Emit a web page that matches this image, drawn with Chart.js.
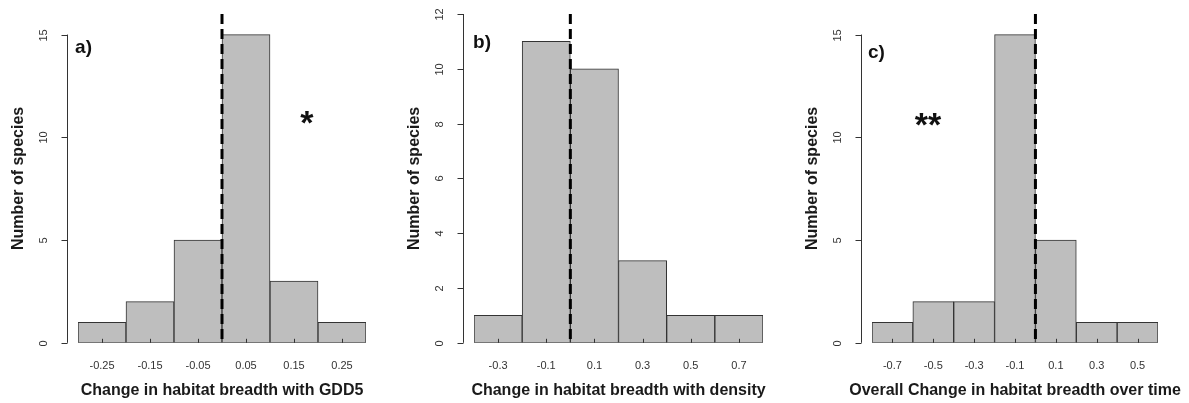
<!DOCTYPE html>
<html><head><meta charset="utf-8">
<script src="https://cdn.jsdelivr.net/npm/chart.js@4/dist/chart.umd.min.js"></script>
<style>
html,body{margin:0;padding:0;background:#fff;}
#wrap{position:relative;width:1189px;height:403px;overflow:hidden;background:#fff;}
canvas{position:absolute;top:0;}
</style></head><body>
<div id="wrap">
<canvas id="ca" width="396" height="403" style="left:0px"></canvas>
<canvas id="cb" width="397" height="403" style="left:395px"></canvas>
<canvas id="cc" width="397" height="403" style="left:792px"></canvas>
</div>
<script>
// ---- Data ----
const aCenters = [-0.25, -0.15, -0.05, 0.05, 0.15, 0.25];
const aCounts  = [1, 2, 5, 15, 3, 1];
const aTickLabels = ["-0.25", "-0.15", "-0.05", "0.05", "0.15", "0.25"];
const aYTicks = [0, 5, 10, 15];

const bCenters = [-0.3, -0.1, 0.1, 0.3, 0.5, 0.7];
const bCounts  = [1, 11, 10, 3, 1, 1];
const bTickLabels = ["-0.3", "-0.1", "0.1", "0.3", "0.5", "0.7"];
const bYTicks = [0, 2, 4, 6, 8, 10, 12];

const cCenters = [-0.7, -0.5, -0.3, -0.1, 0.1, 0.3, 0.5];
const cCounts  = [1, 2, 2, 15, 5, 1, 1];
const cTickLabels = ["-0.7", "-0.5", "-0.3", "-0.1", "0.1", "0.3", "0.5"];
const cYTicks = [0, 5, 10, 15];

const FAM = '"Liberation Sans", Arial, Helvetica, sans-serif';

const histDeco = {
  id: 'histDeco',
  afterDatasetsDraw(chart, args, opts) {
    const ctx = chart.ctx, xs = chart.scales.x, ys = chart.scales.y, ca = chart.chartArea;
    const base = ys.getPixelForValue(0);
    ctx.save();
    // small upward tick marks at bin centres
    ctx.strokeStyle = '#333'; ctx.lineWidth = 1;
    xs.ticks.forEach(t => {
      const px = Math.round(xs.getPixelForValue(t.value)) + 0.5;
      ctx.beginPath(); ctx.moveTo(px, base); ctx.lineTo(px, base - 4); ctx.stroke();
    });
    // dashed reference line at zero
    const zx = xs.getPixelForValue(opts.refValue);
    ctx.strokeStyle = '#000'; ctx.lineWidth = 3; ctx.setLineDash([10, 5]);
    ctx.beginPath(); ctx.moveTo(zx, ca.top); ctx.lineTo(zx, base); ctx.stroke();
    ctx.setLineDash([]);
    // y axis
    const ax = Math.round(ca.left - 11) + 0.5;
    const yt = opts.yTicks;
    const y0 = ys.getPixelForValue(yt[0]), y1 = ys.getPixelForValue(yt[yt.length - 1]);
    ctx.strokeStyle = '#333'; ctx.lineWidth = 1;
    ctx.beginPath(); ctx.moveTo(ax, y0); ctx.lineTo(ax, y1); ctx.stroke();
    ctx.font = '11px ' + FAM; ctx.fillStyle = '#333';
    ctx.textAlign = 'center'; ctx.textBaseline = 'middle';
    yt.forEach(v => {
      const py = Math.round(ys.getPixelForValue(v)) + 0.5;
      ctx.beginPath(); ctx.moveTo(ax, py); ctx.lineTo(ax - 6, py); ctx.stroke();
      ctx.save(); ctx.translate(ax - 24, py); ctx.rotate(-Math.PI / 2);
      ctx.fillText(String(v), 0, 0); ctx.restore();
    });
    // y title
    ctx.save();
    ctx.translate(ax - 49, (ca.top + base) / 2);
    ctx.rotate(-Math.PI / 2);
    ctx.font = 'bold 16px ' + FAM; ctx.fillStyle = '#1a1a1a';
    ctx.fillText(opts.yTitle, 0, 0);
    ctx.restore();
    // x title (drawn here so long titles are not squeezed to the axis width)
    ctx.font = 'bold 16px ' + FAM; ctx.fillStyle = '#1a1a1a';
    ctx.textAlign = 'center'; ctx.textBaseline = 'middle';
    ctx.fillText(opts.xTitle, (ca.left + ca.right) / 2, base + 48);
    // panel letter
    ctx.font = 'bold 19px ' + FAM; ctx.fillStyle = '#111';
    ctx.textAlign = 'left'; ctx.textBaseline = 'middle';
    ctx.fillText(opts.letter.text, xs.getPixelForValue(opts.letter.x), ys.getPixelForValue(opts.letter.y));
    // significance stars
    if (opts.stars) {
      ctx.font = 'bold 34px ' + FAM; ctx.textAlign = 'center'; ctx.textBaseline = 'alphabetic';
      ctx.fillText(opts.stars.text, xs.getPixelForValue(opts.stars.x), ys.getPixelForValue(opts.stars.y) + 19);
    }
    ctx.restore();
  }
};

function makeHist(id, centers, counts, tickLabels, yTicks, xMin, xMax, yMax, xTitle, pad, deco) {
  return new Chart(document.getElementById(id), {
    type: 'bar',
    data: {
      datasets: [{
        data: centers.map((c, i) => ({ x: c, y: counts[i] })),
        backgroundColor: '#bebebe',
        borderColor: '#333',
        borderWidth: 1,
        borderSkipped: false,
        barPercentage: 1,
        categoryPercentage: 1
      }]
    },
    options: {
      responsive: false,
      animation: false,
      layout: { padding: pad },
      plugins: {
        legend: { display: false },
        tooltip: { enabled: false },
        histDeco: Object.assign({ yTicks: yTicks, yTitle: 'Number of species', xTitle: xTitle, refValue: 0 }, deco)
      },
      scales: {
        x: {
          type: 'linear', min: xMin, max: xMax, offset: false,
          afterBuildTicks: s => { s.ticks = centers.map(v => ({ value: v })); },
          grid: { display: false, drawTicks: false },
          border: { display: false },
          ticks: {
            autoSkip: false, maxRotation: 0, minRotation: 0, padding: 17,
            font: { size: 11, family: FAM }, color: '#333',
            callback: (v, i) => tickLabels[i]
          },
          title: { display: false }
        },
        y: { type: 'linear', display: false, min: 0, max: yMax }
      }
    },
    plugins: [histDeco]
  });
}

makeHist('ca', aCenters, aCounts, aTickLabels, aYTicks, -0.3, 0.3, 16,
  'Change in habitat breadth with GDD5',
  { left: 78, right: 30, top: 14, bottom: 13 },
  { letter: { text: 'a)', x: -0.306, y: 14.35 }, stars: { text: '*', x: 0.177, y: 11.09 } });

makeHist('cb', bCenters, bCounts, bTickLabels, bYTicks, -0.4, 0.8, 12,
  'Change in habitat breadth with density',
  { left: 79, right: 29, top: 14, bottom: 13 },
  { letter: { text: 'b)', x: -0.404, y: 10.94 } });

makeHist('cc', cCenters, cCounts, cTickLabels, cYTicks, -0.8, 0.6, 16,
  'Overall Change in habitat breadth over time',
  { left: 80, right: 31, top: 14, bottom: 13 },
  { letter: { text: 'c)', x: -0.82, y: 14.1 }, stars: { text: '**', x: -0.526, y: 11.0 } });
</script>
</body></html>
